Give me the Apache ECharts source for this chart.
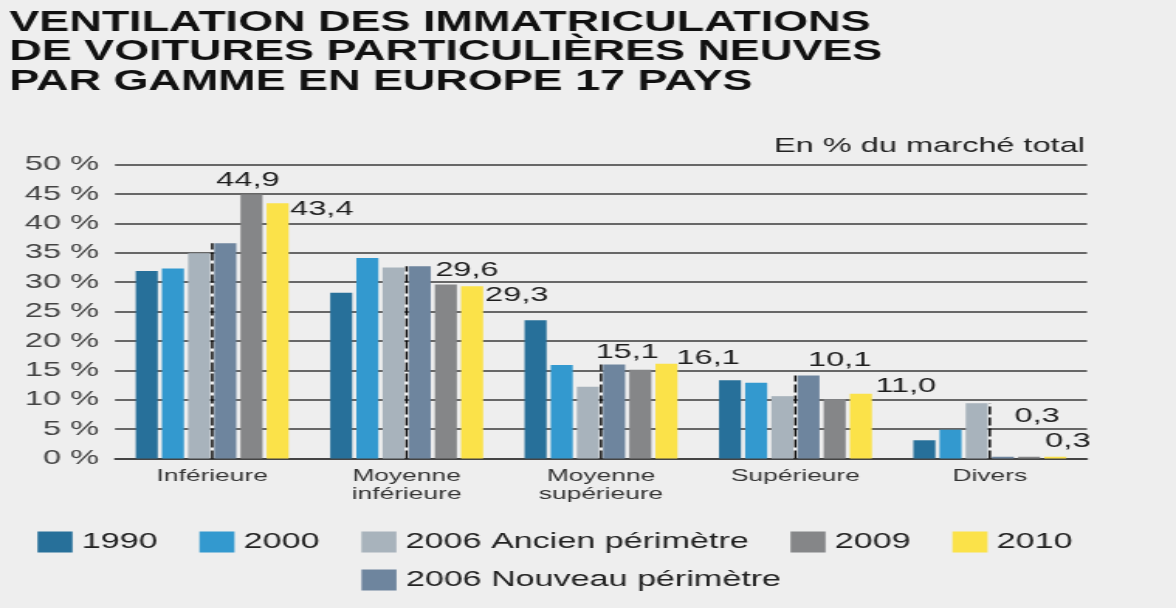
<!DOCTYPE html>
<html>
<head>
<meta charset="utf-8">
<script src="https://cdn.jsdelivr.net/npm/echarts@6/dist/echarts.min.js"></script>
<style>
  html, body { margin: 0; padding: 0; background: #eeeeee; width: 1176px; height: 608px; overflow: hidden; }
  /* the reference picture is horizontally stretched; reproduce by stretching the whole chart */
  #chart { width: 759px; height: 608px; transform: scaleX(1.5494); transform-origin: 0 0; }
</style>
</head>
<body>
<div id="chart"></div>
<script>
// ---- data ----
const categories = ['Inférieure', 'Moyenne\ninférieure', 'Moyenne\nsupérieure', 'Supérieure', 'Divers'];
const seriesNames = ['1990', '2000', '2006 Ancien périmètre', '2006 Nouveau périmètre', '2009', '2010'];
const v1990 = [31.9, 28.2, 23.5, 13.3, 3.1];
const v2000 = [32.3, 34.1, 15.9, 12.9, 4.9];
const v2006Ancien = [34.9, 32.5, 12.2, 10.6, 9.4];
const v2006Nouveau = [36.6, 32.7, 16.0, 14.1, 0.3];
const v2009 = [44.9, 29.6, 15.1, 10.1, 0.3];
const v2010 = [43.4, 29.3, 16.1, 11.0, 0.3];
const yTicks = [0, 5, 10, 15, 20, 25, 30, 35, 40, 45, 50];

// ---- style ----
const S = 1.5494; // horizontal stretch of the picture
const colors = ['#27709a', '#3399cf', '#a8b3bc', '#6e859e', '#858688', '#fbe249'];
const FONT = 'Liberation Sans, Arial, Helvetica, sans-serif';
// label offsets (screen px of the reference, x later divided by S)
const off2009 = [[-3.5, 4], [21, 3.5], [-13, 7.5], [5, 28.5], [8, 30.5]];
const off2010 = [[1.5, -4.5], [2, -1.5], [-1, -16.5], [3.5, -18.5], [-21, -26.5]];

const fmt = v => v.toFixed(1).replace('.', ',');
const labelBase = { show: true, color: '#1e1e1e', fontSize: 21, fontFamily: FONT, formatter: p => fmt(p.value) };

const data2009 = v2009.map((v, i) => ({
  value: v,
  label: Object.assign({}, labelBase, { position: 'top', distance: 0, offset: [off2009[i][0] / S, -off2009[i][1]] })
}));
const data2010 = v2010.map((v, i) => ({
  value: v,
  label: Object.assign({}, labelBase, { position: ['100%', 0], offset: [off2010[i][0] / S, off2010[i][1]] })
}));

const allValues = [v1990, v2000, v2006Ancien, v2006Nouveau, data2009, data2010];
const dividerData = categories.map((c, i) => [i, Math.max(v2006Ancien[i], v2006Nouveau[i])]);

const chart = echarts.init(document.getElementById('chart'));
chart.setOption({
  backgroundColor: '#eeeeee',
  animation: false,
  title: [
    {
      text: 'VENTILATION DES IMMATRICULATIONS\nDE VOITURES PARTICULIÈRES NEUVES\nPAR GAMME EN EUROPE 17 PAYS',
      left: 6, top: 8, padding: 0,
      textStyle: { fontSize: 29, fontWeight: 'bold', lineHeight: 29.5, color: '#111', fontFamily: FONT }
    },
    {
      text: 'En % du marché total',
      right: 759 - 1085 / S, top: 136, padding: 0,
      textStyle: { fontSize: 21, fontWeight: 'normal', color: '#222', fontFamily: FONT }
    }
  ],
  legend: [
    {
      data: ['1990', '2000', '2006 Ancien périmètre', '2009', '2010'],
      left: 37.5 / S, top: 531, padding: 0,
      icon: 'rect', itemWidth: 35 / S, itemHeight: 21, itemGap: 27,
      selectedMode: false,
      textStyle: { fontSize: 22, color: '#222', fontFamily: FONT, padding: [0, 0, 0, 1] }
    },
    {
      data: ['2006 Nouveau périmètre'],
      left: 361.5 / S, top: 569, padding: 0,
      icon: 'rect', itemWidth: 35 / S, itemHeight: 21,
      selectedMode: false,
      textStyle: { fontSize: 22, color: '#222', fontFamily: FONT, padding: [0, 0, 0, 1] }
    }
  ],
  grid: { left: 115 / S, right: 759 - 1087 / S, top: 164.5, bottom: 608 - 458.5, containLabel: false },
  xAxis: {
    type: 'category',
    data: categories,
    axisLine: { show: true, lineStyle: { color: '#3a3a3a', width: 1.6 } },
    axisTick: { show: false },
    axisLabel: { interval: 0, color: '#333', fontSize: 17, fontFamily: FONT, lineHeight: 18, margin: 9 }
  },
  yAxis: {
    type: 'value',
    min: yTicks[0], max: yTicks[yTicks.length - 1], interval: 5,
    axisLine: { show: false },
    axisTick: { show: false },
    splitLine: { show: true, lineStyle: { color: '#3a3a3a', width: 1.6 } },
    axisLabel: { color: '#444', fontSize: 21, fontFamily: FONT, margin: 16 / S, formatter: '{value} %' }
  },
  series: seriesNames.map((name, k) => ({
    name: name,
    type: 'bar',
    data: allValues[k],
    barWidth: 22 / S,
    barGap: '19%',
    itemStyle: { color: colors[k] },
    z: 2
  })).concat([{
    name: 'séparation',
    type: 'custom',
    data: dividerData,
    encode: { x: 0, y: 1 },
    z: 5,
    silent: true,
    renderItem: function (params, api) {
      const p0 = api.coord([api.value(0), 0]);
      const p1 = api.coord([api.value(0), api.value(1)]);
      return {
        type: 'line',
        shape: { x1: p0[0], y1: p0[1], x2: p1[0], y2: p1[1] },
        style: { stroke: '#000', lineWidth: 2 / S * 1.1, lineDash: [8, 3] }
      };
    }
  }])
});
</script>
</body>
</html>
